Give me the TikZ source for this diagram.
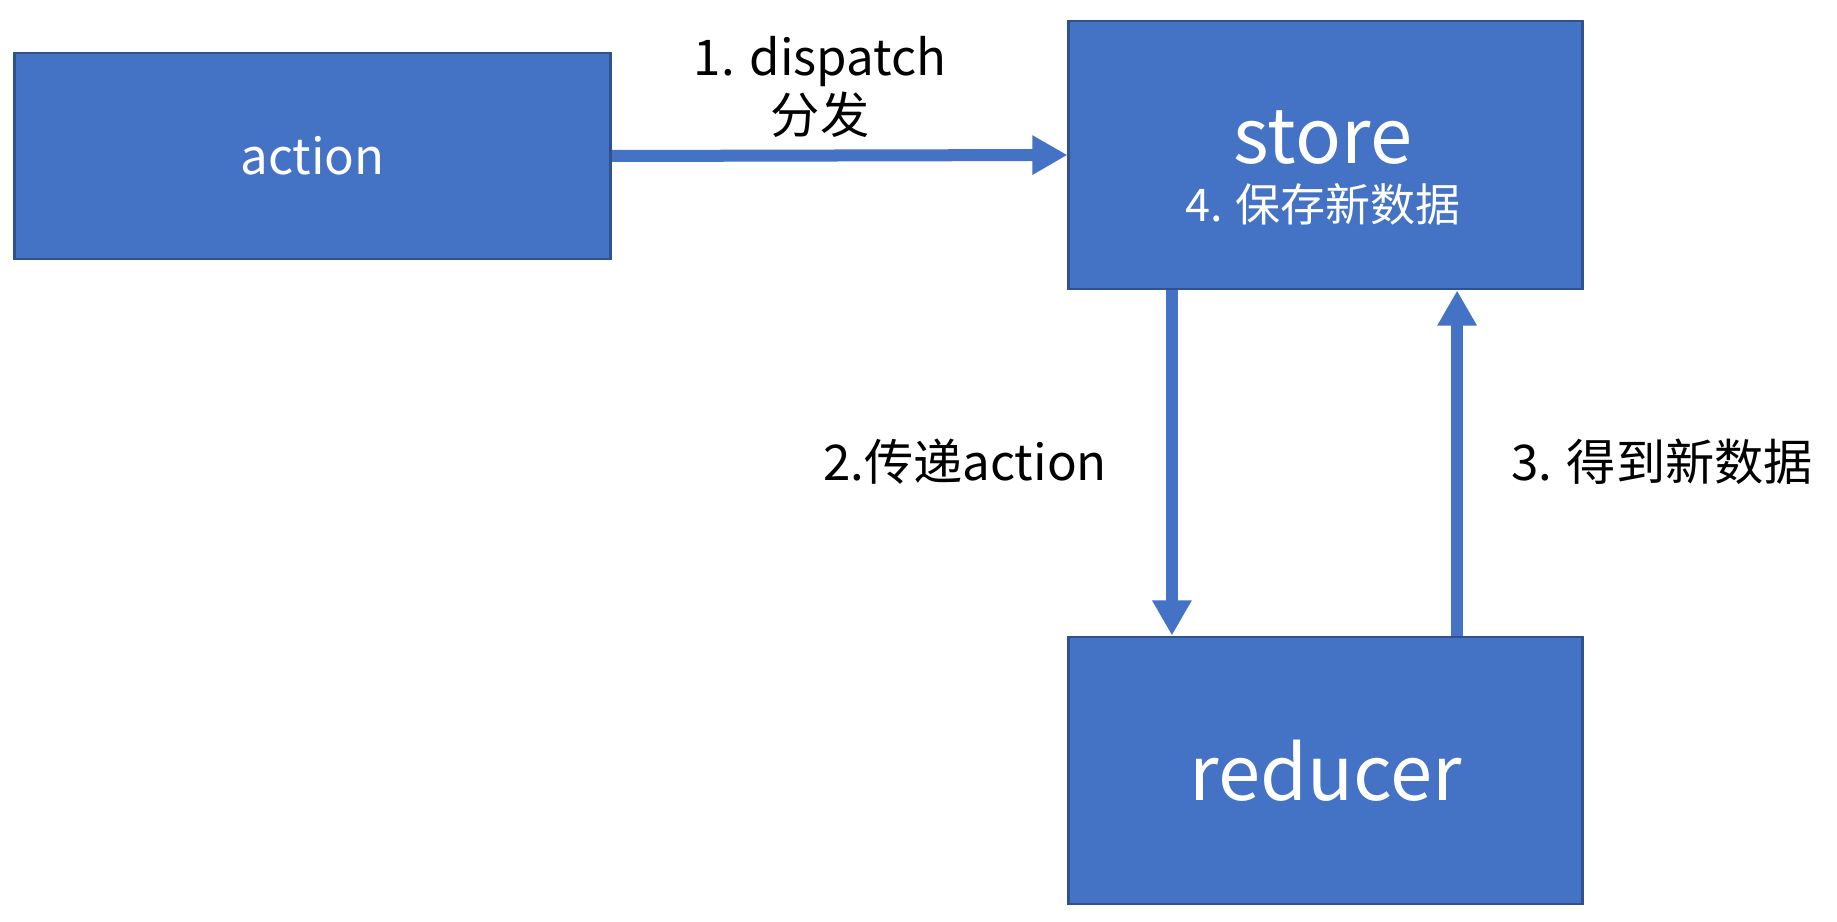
\documentclass[tikz,border=0pt]{standalone}
\usepackage{fontspec}
\setmainfont{Noto Sans CJK SC}
\usepackage{tikz}
\usetikzlibrary{arrows.meta}
\definecolor{boxblue}{RGB}{68,114,196}
\definecolor{boxedge}{RGB}{47,82,143}
\pgfdeclarelayer{edgelayer}
\pgfdeclarelayer{nodelayer}
\pgfsetlayers{edgelayer,nodelayer,main}
\tikzstyle{block}=[rectangle,fill=boxblue,draw=boxedge,line width=0.8pt,inner sep=0pt,text=white]
\tikzstyle{flow}=[-{Triangle[width=0.37cm,length=0.35cm]},draw=boxblue,fill=boxblue,line width=0.12cm]
\tikzstyle{empty}=[inner sep=0pt]
\tikzstyle{steplabel}=[inner sep=0pt,text=black,font=\fontsize{14}{16}\selectfont]

\begin{document}
\begin{tikzpicture}[x=0.01cm,y=-0.01cm]
	\useasboundingbox (0,0) rectangle (1837,922);
	\begin{pgfonlayer}{nodelayer}
		\node [style=block, minimum width=5.95cm, minimum height=2.06cm, font=\fontsize{14}{16}\selectfont] (action) at (312.5, 156) {action};
		\node [style=block, minimum width=5.13cm, minimum height=2.68cm] (store) at (1325.5, 155) {};
		\node [style=block, minimum width=5.13cm, minimum height=2.67cm, font=\fontsize{21.6}{24}\selectfont] (reducer) at (1325.5, 770.5) {reducer};

		\node [style=empty, text=white, font=\fontsize{21.6}{24}\selectfont] (storename) at (1323, 138) {store};
		\node [style=empty, text=white, font=\fontsize{12.8}{15}\selectfont] (save) at (1323, 204) {4. 保存新数据};

		\node [style=steplabel] (dispatch) at (820, 62) {1. dispatch};
		\node [style=steplabel] (fenfa) at (820, 115) {分发};
		\node [style=steplabel] (pass) at (965, 462) {2.传递action};
		\node [style=steplabel] (result) at (1662, 462) {3. 得到新数据};
	\end{pgfonlayer}
	\begin{pgfonlayer}{edgelayer}
		\draw [style=flow] (action.east) to (store.west);
		\draw [style=flow] ([xshift=-1.535cm]store.south) to ([xshift=-1.535cm]reducer.north);
		\draw [style=flow] ([xshift=1.315cm]reducer.north) to ([xshift=1.315cm]store.south);
	\end{pgfonlayer}
\end{tikzpicture}
\end{document}
